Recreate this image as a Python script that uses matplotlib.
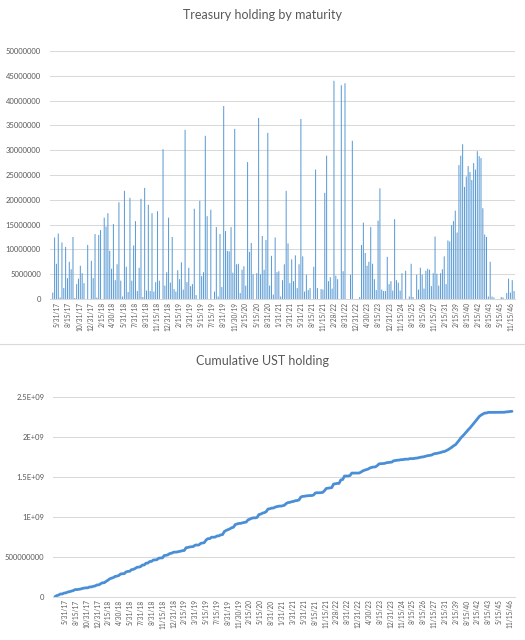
import numpy as np
import matplotlib
matplotlib.use("Agg")
import matplotlib.pyplot as plt
from matplotlib.ticker import FuncFormatter
from matplotlib.lines import Line2D

plt.rcParams["font.family"] = ["Lato", "DejaVu Sans"]

# holdings per maturity, millions
holdings_m = [
    1.3, 12.4, 7.1, 13.2, 0.3, 11.4, 2.2, 10.5, 4.2, 7.5,
    6.0, 12.5, 0.2, 3.0, 4.1, 6.7, 5.2, 3.2, 0.0, 10.9,
    0.0, 7.7, 4.2, 13.1, 0.3, 12.9, 13.9, 0.0, 16.4, 14.6,
    17.3, 9.7, 6.1, 15.1, 3.8, 7.0, 19.5, 3.7, 0.5, 21.8,
    6.5, 1.4, 20.4, 3.7, 10.8, 15.7, 1.6, 6.3, 20.2, 0.4,
    22.4, 1.7, 19.0, 1.6, 17.3, 1.5, 3.4, 17.7, 3.7, 0.0,
    30.2, 2.7, 5.4, 16.4, 3.3, 12.5, 2.0, 1.5, 5.8, 4.0,
    7.4, 1.9, 34.1, 3.4, 6.3, 2.6, 3.0, 18.2, 0.8, 0.0,
    19.8, 4.6, 5.4, 32.9, 16.7, 0.0, 18.0, 0.0, 1.5, 14.5,
    0.5, 13.1, 2.4, 38.9, 13.7, 9.7, 9.6, 14.5, 5.3, 34.3,
    7.0, 7.1, 1.2, 5.9, 6.6, 2.7, 27.6, 9.5, 11.3, 5.0,
    0.0, 5.2, 36.5, 5.0, 12.7, 5.9, 11.9, 33.5, 2.7, 8.7,
    0.9, 12.4, 5.4, 5.6, 0.5, 3.8, 7.0, 21.8, 11.2, 3.2,
    8.0, 3.6, 8.8, 2.2, 7.0, 36.3, 8.6, 1.5, 4.9, 1.8,
    2.2, 0.0, 6.5, 26.1, 2.2, 0.0, 2.0, 1.9, 21.4, 28.9,
    3.6, 4.4, 2.1, 44.0, 4.7, 4.0, 0.0, 43.1, 5.6, 43.5,
    0.0, 0.0, 4.9, 31.9, 0.0, 0.0, 0.0, 0.4, 10.9, 15.4,
    9.3, 6.7, 7.5, 14.5, 7.1, 4.0, 1.8, 15.8, 22.3, 1.9,
    1.6, 1.6, 8.5, 3.0, 3.6, 1.7, 16.1, 3.8, 3.3, 1.7,
    5.2, 0.0, 5.7, 0.0, 0.5, 7.1, 0.4, 0.0, 4.9, 1.9,
    6.3, 4.9, 2.1, 5.7, 6.1, 5.9, 2.6, 5.2, 12.6, 5.1,
    2.7, 5.2, 6.0, 8.6, 3.0, 11.8, 11.6, 14.9, 15.7, 17.8,
    13.4, 27.0, 28.9, 31.2, 22.6, 24.7, 26.8, 25.6, 24.0, 27.4,
    26.1, 29.8, 28.8, 28.4, 18.3, 13.0, 12.5, 0.5, 7.5, 0.5,
    0.3, 0.0, 0.0, 0.0, 0.4, 0.3, 0.0, 1.2, 4.1, 1.3,
    3.8, 1.6,
]

# every 6th maturity date is labelled on the axis
date_labels = [
    "5/31/17", "8/15/17", "10/31/17", "12/31/17", "2/15/18", "4/30/18",
    "5/31/18", "7/31/18", "8/31/18", "11/15/18", "12/31/18", "2/15/19",
    "3/31/19", "5/15/19", "7/15/19", "8/31/19", "11/30/19", "2/15/20",
    "5/15/20", "8/31/20", "1/31/21", "3/31/21", "5/31/21", "8/15/21",
    "11/15/21", "2/28/22", "8/31/22", "12/31/22", "4/30/23", "8/15/23",
    "12/31/23", "11/15/24", "8/15/25", "8/15/26", "11/15/27", "2/15/31",
    "2/15/39", "8/15/40", "2/15/42", "8/15/43", "5/15/45", "11/15/46",
]

cum_ticks = [0, 5e8, 1e9, 1.5e9, 2e9, 2.5e9]
cum_tick_labels = ["0", "500000000", "1E+09", "1.5E+09", "2E+09", "2.5E+09"]

holdings = np.array(holdings_m) * 1e6
cumulative = np.cumsum(holdings)
x = np.arange(len(holdings))

BLUE = "#5B9BD5"
GRID = "#D9D9D9"
TXT = "#595959"
W, H = 525, 640


def estilo_ejes(ax):
    for s in ["top", "right", "left"]:
        ax.spines[s].set_visible(False)
    ax.spines["bottom"].set_color(GRID)
    ax.spines["bottom"].set_linewidth(0.75)
    ax.grid(axis="y", color=GRID, linewidth=0.75)
    ax.set_axisbelow(True)
    ax.tick_params(axis="both", length=0, colors=TXT)
    ax.tick_params(axis="y", labelsize=5.5, pad=6.5)
    ax.tick_params(axis="x", labelsize=4.7, pad=2)


fig = plt.figure(figsize=(W / 100, H / 100), dpi=100)

# grafico 1: barras por vencimiento
ax1 = fig.add_axes([50 / W, 1 - 299 / H, 465 / W, 248 / H])
barras = ax1.bar(x, holdings, width=0.55, color=BLUE, linewidth=0)
for b in barras:
    b.set_snap(False)
ax1.set_xlim(-1.5, len(holdings) - 0.5)
ax1.set_ylim(0, 50000000)
ax1.set_yticks(np.arange(0, 50000001, 5000000))
ax1.yaxis.set_major_formatter(FuncFormatter(lambda v, p: f"{int(v)}"))
ax1.set_xticks(np.linspace(2.5, 249.5, len(date_labels)))
ax1.set_xticklabels(date_labels, rotation=90)
estilo_ejes(ax1)
fig.text(262.5 / W, 1 - 15 / H, "Treasury holding by maturity", ha="center", va="center",
         fontsize=9, color=TXT)

# separador entre los dos graficos
fig.add_artist(Line2D([0, 1], [1 - 344 / H, 1 - 344 / H], color=GRID, linewidth=0.8))

# grafico 2: acumulado
ax2 = fig.add_axes([53.3 / W, 1 - 596.7 / H, 461.7 / W, 200 / H])
ax2.plot(x, cumulative, color="#4A8FD6", linewidth=2.0, solid_capstyle="round")
ax2.set_xlim(-0.93, len(holdings) + 0.65)
ax2.set_ylim(0, 2.5e9)
ax2.set_yticks(cum_ticks)
ax2.set_yticklabels(cum_tick_labels)
ax2.set_xticks(np.linspace(5.5, 250, len(date_labels)))
ax2.set_xticklabels(date_labels, rotation=90)
estilo_ejes(ax2)
fig.text(262.5 / W, 1 - 361 / H, "Cumulative UST holding", ha="center", va="center",
         fontsize=9, color=TXT)

fig.savefig("out.png", dpi=100, facecolor="white")
